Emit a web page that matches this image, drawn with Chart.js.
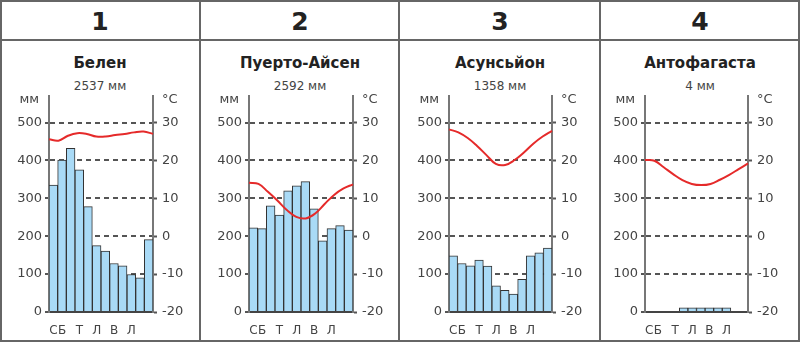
<!DOCTYPE html>
<html>
<head>
<meta charset="utf-8">
<script src="https://cdn.jsdelivr.net/npm/chart.js@4.4.0/dist/chart.umd.min.js"></script>
<style>
html,body{margin:0;padding:0;background:#fff;}
#wrap{position:relative;width:800px;height:342px;font-family:"DejaVu Sans",Verdana,sans-serif;overflow:hidden;}
.frame{position:absolute;left:0;top:0;width:800px;height:342px;box-sizing:border-box;border:2px solid #666;}
.vline{position:absolute;top:0;width:2px;height:342px;background:#666;}
.hline{position:absolute;left:0;top:39px;width:800px;height:2px;background:#666;}
.num{position:absolute;top:3px;width:200px;height:38px;line-height:38px;text-align:center;font-weight:bold;font-size:25px;color:#222;}
.ttl{position:absolute;top:55px;width:200px;line-height:16px;text-align:center;font-weight:bold;font-size:15px;color:#222;}
.sub{position:absolute;top:79px;width:200px;line-height:14px;text-align:center;font-size:12px;color:#444;}
canvas{position:absolute;top:42px;}
</style>
</head>
<body>
<div id="wrap">
  <div class="frame"></div>
  <div class="hline"></div>
  <div class="vline" style="left:199px"></div>
  <div class="vline" style="left:398px"></div>
  <div class="vline" style="left:599px"></div>
  <div id="texts"></div>
  <canvas id="c1" width="196" height="298" style="left:2px"></canvas>
  <canvas id="c2" width="196" height="298" style="left:202px"></canvas>
  <canvas id="c3" width="197" height="298" style="left:401px"></canvas>
  <canvas id="c4" width="196" height="298" style="left:602px"></canvas>
</div>
<script>
/* ---------- data ---------- */
const panelNumbers=['1','2','3','4'];
const cities=['Белен','Пуерто-Айсен','Асунсьйон','Антофагаста'];
const totals=['2537 мм','2592 мм','1358 мм','4 мм'];
const monthLabels=['С','Б','','Т','','Л','','В','','Л','',''];
const mmTicks=[0,100,200,300,400,500];
const tempTicks=[-20,-10,0,10,20,30];

const rainBelen=[335,401,432,375,278,175,161,128,122,99,90,191];
const tempBelen=[25.6,25.2,26.5,27.2,27.0,26.3,26.3,26.7,27.0,27.4,27.6,27.0];
const rainAysen=[222,220,280,256,320,333,344,272,188,220,228,216];
const tempAysen=[14.1,13.8,11.7,9.4,6.9,5.1,4.7,6.0,8.5,10.9,12.6,13.7];
const rainAsuncion=[148,128,122,137,121,69,57,47,86,148,156,169];
const tempAsuncion=[28.2,27.4,25.9,23.8,21.4,19.1,18.8,20.1,22.1,24.4,26.3,27.8];
const rainAntofagasta=[0,0,0,0,11,11,11,11,11,11,0,0];
const tempAntofagasta=[20.1,19.9,18.2,16.4,14.8,13.8,13.5,13.8,14.9,16.2,17.7,19.2];

Chart.defaults.font.family='"DejaVu Sans", Verdana, sans-serif';

/* ---------- header texts ---------- */
const texts=document.getElementById('texts');
panelNumbers.forEach((n,i)=>{
  const left=i*200;
  texts.insertAdjacentHTML('beforeend',
    `<div class="num" style="left:${left}px">${n}</div>`+
    `<div class="ttl" style="left:${left}px">${cities[i]}</div>`+
    `<div class="sub" style="left:${left}px">${totals[i]}</div>`);
});

/* ---------- units at the top of both axes ---------- */
const unitsPlugin={
  id:'units',
  afterDraw(chart){
    const {ctx,chartArea}=chart;
    ctx.save();
    ctx.font='13px "DejaVu Sans"';
    ctx.fillStyle='#444';
    ctx.textBaseline='middle';
    ctx.textAlign='right';
    ctx.fillText('мм',chartArea.left-10,chartArea.top+4);
    ctx.textAlign='left';
    ctx.fillText('°C',chartArea.right+9,chartArea.top+4);
    ctx.restore();
  }
};

/* ---------- chart ---------- */
function makeChart(id,rain,temp,leftW,rightW){
  return new Chart(document.getElementById(id),{
    type:'bar',
    data:{
      labels:monthLabels,
      datasets:[
        {type:'line',data:temp,xAxisID:'xl',yAxisID:'yt',borderColor:'#e52a2a',borderWidth:2,pointRadius:0,tension:0.4,order:0},
        {type:'bar',data:rain,xAxisID:'x',yAxisID:'y',backgroundColor:'#a9daf6',borderColor:'#333',borderWidth:1,order:1}
      ]
    },
    options:{
      responsive:false,
      animation:false,
      datasets:{bar:{barPercentage:1,categoryPercentage:1,grouped:false}},
      layout:{padding:{top:54,left:0,right:0,bottom:0}},
      plugins:{legend:{display:false},tooltip:{enabled:false}},
      scales:{
        x:{
          type:'category',offset:true,
          grid:{display:false},
          border:{display:true,color:'#444',width:2},
          ticks:{autoSkip:false,maxRotation:0,padding:4,color:'#444',font:{size:12}},
          afterFit:s=>{s.height=28;}
        },
        xl:{type:'category',labels:monthLabels,offset:false,display:false},
        y:{
          position:'left',min:0,max:570,z:1,
          afterBuildTicks:s=>{s.ticks=mmTicks.map(v=>({value:v}));},
          afterFit:s=>{s.width=leftW;},
          grid:{color:'#555',lineWidth:2,tickLength:4,tickColor:'#555',tickWidth:2},
          border:{display:true,color:'#777',width:2,dash:[5,4]},
          ticks:{padding:3,color:'#444',font:{size:13}}
        },
        yt:{
          position:'right',min:-20,max:37,
          afterBuildTicks:s=>{s.ticks=tempTicks.map(v=>({value:v}));},
          afterFit:s=>{s.width=rightW;},
          grid:{drawOnChartArea:false,tickLength:4,tickColor:'#555',tickWidth:2},
          border:{display:true,color:'#777',width:2},
          ticks:{padding:5,color:'#444',font:{size:13}}
        }
      }
    },
    plugins:[unitsPlugin]
  });
}

makeChart('c1',rainBelen,tempBelen,47,45);
makeChart('c2',rainAysen,tempAysen,47,45);
makeChart('c3',rainAsuncion,tempAsuncion,48,46);
makeChart('c4',rainAntofagasta,tempAntofagasta,43,50);
</script>
</body>
</html>
